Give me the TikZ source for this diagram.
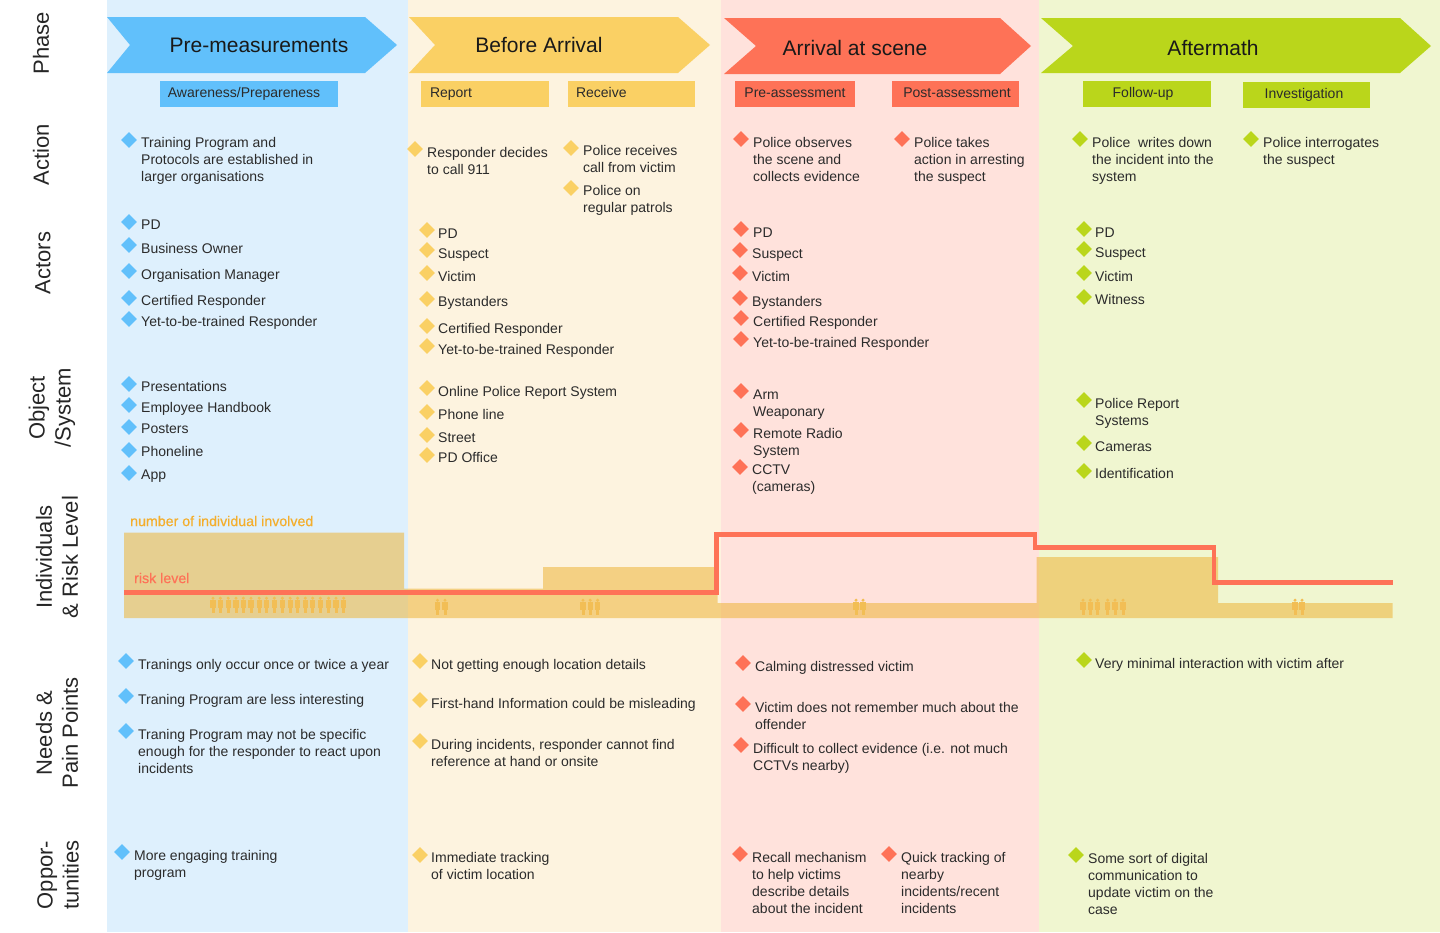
\documentclass[tikz,border=0pt]{standalone}
\usepackage{fontspec}
\setmainfont{Liberation Sans}
\usetikzlibrary{shapes.geometric, positioning}
\definecolor{bluebg}{HTML}{DEF0FD}
\definecolor{creambg}{HTML}{FDF3DF}
\definecolor{pinkbg}{HTML}{FFE2DC}
\definecolor{limebg}{HTML}{F0F6D0}
\definecolor{bluemain}{HTML}{61C0FB}
\definecolor{yellowmain}{HTML}{FAD064}
\definecolor{redmain}{HTML}{FE7257}
\definecolor{limemain}{HTML}{BAD61B}
\definecolor{bandfill}{HTML}{EEB438}
\definecolor{bandtext}{HTML}{F4AE2C}
\definecolor{personfill}{HTML}{F2BE55}
\definecolor{inktext}{HTML}{2B2B2B}
\newcommand{\entry}[5]{%
  \node[#2] (#1dot) at (#3) {};
  \node[entrytext] (#1) at (#4) {\strut #5};
}
\tikzset{
  entrytext/.style={anchor=north west, inner sep=0pt, align=left, yshift=6.5pt, text=inktext,
    font=\fontsize{14}{17}\selectfont},
  dotbase/.style={shape=diamond, minimum size=16pt, inner sep=0pt},
  bluedot/.style={dotbase, fill=bluemain},
  yellowdot/.style={dotbase, fill=yellowmain},
  reddot/.style={dotbase, fill=redmain},
  limedot/.style={dotbase, fill=limemain},
  rowlabel/.style={rotate=90, align=center, text=black!85, font=\fontsize{22}{26}\selectfont},
  phasename/.style={text=black!90, font=\fontsize{21}{26}\selectfont},
  subbox/.style={minimum height=26pt, inner sep=0pt, text height=10pt, text depth=3pt, text=inktext,
    font=\fontsize{14}{17}\selectfont},
  bandnote/.style={anchor=west, inner sep=0pt, font=\fontsize{14.2}{17}\selectfont\addfontfeature{FakeBold=0.4}},
  person/.pic={
    \fill[personfill] (0,-6.3) circle (1.7);
    \fill[personfill] (-2.7,-4.2) rectangle (2.7,3);
    \fill[personfill] (-1.5,3) rectangle (1.5,8.6);
  }
}
\begin{document}
\begin{tikzpicture}[x=1pt, y=-1pt]
    \useasboundingbox (0,0) rectangle (1440,932);

    % Columns
    \fill[bluebg] (107,0) rectangle (408,932);
    \fill[creambg] (408,0) rectangle (721,932);
    \fill[pinkbg] (721,0) rectangle (1039,932);
    \fill[limebg] (1039,0) rectangle (1440,932);

    % Row labels
    \node[rowlabel] (rowphase) at (41,43) {Phase};
    \node[rowlabel] (rowaction) at (41,155) {Action};
    \node[rowlabel] (rowactors) at (43,263) {Actors};
    \node[rowlabel] (rowobject) at (52,408) {Object\\/System};
    \node[rowlabel] (rowrisk) at (57,557) {Individuals\\\& Risk Level};
    \node[rowlabel] (rowneeds) at (57,733) {Needs \&\\Pain Points};
    \node[rowlabel] (rowopp) at (58,875) {Oppor-\\tunities};

    % Phases
    \fill[bluemain] (107,17) -- (365,17) -- (397,45) -- (365,73) -- (107,73) -- (130,45) -- cycle;
    \fill[yellowmain] (409,17) -- (678,17) -- (710,45) -- (678,73) -- (409,73) -- (435,45) -- cycle;
    \fill[redmain] (724,18) -- (1000,18) -- (1031,46) -- (1000,74) -- (724,74) -- (756,46) -- cycle;
    \fill[limemain] (1041,18) -- (1400,18) -- (1431,46) -- (1400,73) -- (1041,73) -- (1073,46) -- cycle;
    \node[phasename] (phasepre) at (259,45) {Pre-measurements};
    \node[phasename] (phasebefore) at (539,45) {Before Arrival};
    \node[phasename] (phasearrival) at (855,48) {Arrival at scene};
    \node[phasename] (phaseafter) at (1213,48) {Aftermath};

    % Sub-phases
    \node[subbox, fill=bluemain, minimum width=178pt] (subaware) at (249,94) {Awareness/Prepareness\kern10pt};
    \node[subbox, fill=yellowmain, minimum width=128pt, text width=110pt, align=left] (subreport) at (485,94) {Report};
    \node[subbox, fill=yellowmain, minimum width=127pt, text width=111pt, align=left] (subreceive) at (631.5,94) {Receive};
    \node[subbox, fill=redmain, minimum width=120pt] (subpre) at (795,94) {Pre-assessment};
    \node[subbox, fill=redmain, minimum width=127pt] (subpost) at (955.5,94) {\kern3pt Post-assessment};
    \node[subbox, fill=limemain, minimum width=128pt] (subfollow) at (1147,94) {Follow-up\kern8pt};
    \node[subbox, fill=limemain, minimum width=127pt] (subinvest) at (1306.5,95) {Investigation\kern5pt};

    % Pre-measurements
    \entry{bact}{bluedot}{129,140}{141,142}{Training Program and\\Protocols are established in\\larger organisations}
    \entry{bpd}{bluedot}{129,222}{141,224}{PD}
    \entry{bowner}{bluedot}{129,245}{141,248}{Business Owner}
    \entry{bmanager}{bluedot}{129,271}{141,274}{Organisation Manager}
    \entry{bcert}{bluedot}{129,298}{141,300}{Certified Responder}
    \entry{byet}{bluedot}{129,319}{141,321}{Yet-to-be-trained Responder}
    \entry{bpres}{bluedot}{129,384}{141,386}{Presentations}
    \entry{bhand}{bluedot}{129,405}{141,407}{Employee Handbook}
    \entry{bpost}{bluedot}{129,427}{141,428}{Posters}
    \entry{bphone}{bluedot}{129,450}{141,451}{Phoneline}
    \entry{bapp}{bluedot}{129,473}{141,474}{App}
    \entry{bneeda}{bluedot}{126,661}{138,664}{Tranings only occur once or twice a year}
    \entry{bneedb}{bluedot}{126,696}{138,699}{Traning Program are less interesting}
    \entry{bneedc}{bluedot}{126,731}{138,734}{Traning Program may not be specific\\enough for the responder to react upon\\incidents}
    \entry{bopp}{bluedot}{122,852}{134,855}{More engaging training\\program}

    % Before Arrival
    \entry{yacta}{yellowdot}{415,149}{427,152}{Responder decides\\to call 911}
    \entry{yactb}{yellowdot}{571,148}{583,150}{Police receives\\call from victim}
    \entry{yactc}{yellowdot}{571,188}{583,190}{Police on\\regular patrols}
    \entry{ypd}{yellowdot}{427,230}{438,233}{PD}
    \entry{ysus}{yellowdot}{427,250}{438,253}{Suspect}
    \entry{yvic}{yellowdot}{427,273}{438,276}{Victim}
    \entry{ybys}{yellowdot}{427,299}{438,301}{Bystanders}
    \entry{ycert}{yellowdot}{427,326}{438,328}{Certified Responder}
    \entry{yyet}{yellowdot}{427,346}{438,349}{Yet-to-be-trained Responder}
    \entry{yonline}{yellowdot}{427,388}{438,391}{Online Police Report System}
    \entry{yphone}{yellowdot}{427,412}{438,414}{Phone line}
    \entry{ystreet}{yellowdot}{427,435}{438,437}{Street}
    \entry{yoffice}{yellowdot}{427,455}{438,457}{PD Office}
    \entry{yneeda}{yellowdot}{420,661}{431,664}{Not getting enough location details}
    \entry{yneedb}{yellowdot}{420,700}{431,703}{First-hand Information could be misleading}
    \entry{yneedc}{yellowdot}{420,741}{431,744}{During incidents, responder cannot find\\reference at hand or onsite}
    \entry{yopp}{yellowdot}{420,855}{431,857}{Immediate tracking\\of victim location}

    % Arrival at scene
    \entry{racta}{reddot}{741,139}{753,142}{Police observes\\the scene and\\collects evidence}
    \entry{ractb}{reddot}{902,139}{914,142}{Police takes\\action in arresting\\the suspect}
    \entry{rpd}{reddot}{741,229}{753,232}{PD}
    \entry{rsus}{reddot}{740,250}{752,253}{Suspect}
    \entry{rvic}{reddot}{740,273}{752,276}{Victim}
    \entry{rbys}{reddot}{740,298}{752,301}{Bystanders}
    \entry{rcert}{reddot}{741,318}{753,321}{Certified Responder}
    \entry{ryet}{reddot}{741,339}{753,342}{Yet-to-be-trained Responder}
    \entry{rarm}{reddot}{741,391}{753,394}{Arm\\Weaponary}
    \entry{rradio}{reddot}{741,430}{753,433}{Remote Radio\\System}
    \entry{rcctv}{reddot}{740,467}{752,469}{CCTV\\(cameras)}
    \entry{rneeda}{reddot}{743,663}{755,666}{Calming distressed victim}
    \entry{rneedb}{reddot}{743,704}{755,707}{Victim does not remember much about the\\offender}
    \entry{rneedc}{reddot}{741,745}{753,748}{Difficult to collect evidence (i.e. not much\\CCTVs nearby)}
    \entry{roppa}{reddot}{740,854}{752,857}{Recall mechanism\\to help victims\\describe details\\about the incident}
    \entry{roppb}{reddot}{889,854}{901,857}{Quick tracking of\\nearby\\incidents/recent\\incidents}

    % Aftermath
    \entry{lacta}{limedot}{1080,139}{1092,142}{Police\ \ writes down\\the incident into the\\system}
    \entry{lactb}{limedot}{1251,139}{1263,142}{Police interrogates\\the suspect}
    \entry{lpd}{limedot}{1084,229}{1095,232}{PD}
    \entry{lsus}{limedot}{1084,249}{1095,252}{Suspect}
    \entry{lvic}{limedot}{1084,273}{1095,276}{Victim}
    \entry{lwit}{limedot}{1084,297}{1095,299}{Witness}
    \entry{lreport}{limedot}{1084,400}{1095,403}{Police Report\\Systems}
    \entry{lcam}{limedot}{1084,443}{1095,446}{Cameras}
    \entry{lid}{limedot}{1084,471}{1095,473}{Identification}
    \entry{lneed}{limedot}{1084,660}{1095,663}{Very minimal interaction with victim after}
    \entry{lopp}{limedot}{1076,855}{1088,858}{Some sort of digital\\communication to\\update victim on the\\case}

    % Individuals and risk
    \fill[bandfill, opacity=.55] (124,532.5) -- (404,532.5) -- (404,588.5) -- (543,588.5) -- (543,567)
        -- (717.5,567) -- (717.5,603) -- (1036.5,603) -- (1036.5,557) -- (1218,557) -- (1218,603)
        -- (1392.5,603) -- (1392.5,618) -- (124,618) -- cycle;
    \foreach \px in {213,220.4,228.2,236,243.3,251,259.2,266.5,274.3,282.4,290.2,297.6,305.3,312.7,320.4,328.6,336,343.7}
        \pic at (\px,604.5) {person};
    \foreach \px in {437.5,445,583,590.2,597.6,856,863,1083,1090.3,1097.6,1107.7,1115,1123,1295,1302}
        \pic at (\px,606.5) {person};
    \draw[redmain, line width=4.6pt, line join=miter] (124,592.3) -- (716.5,592.3) -- (716.5,534.5) -- (1035,534.5)
        -- (1035,547.5) -- (1214,547.5) -- (1214,582.3) -- (1392.5,582.3);
    \node[bandnote, text=bandtext] (bandlabel) at (130,521) {number of individual involved};
    \node[bandnote, text=redmain] (risklabel) at (134,578) {risk level};
\end{tikzpicture}
\end{document}
